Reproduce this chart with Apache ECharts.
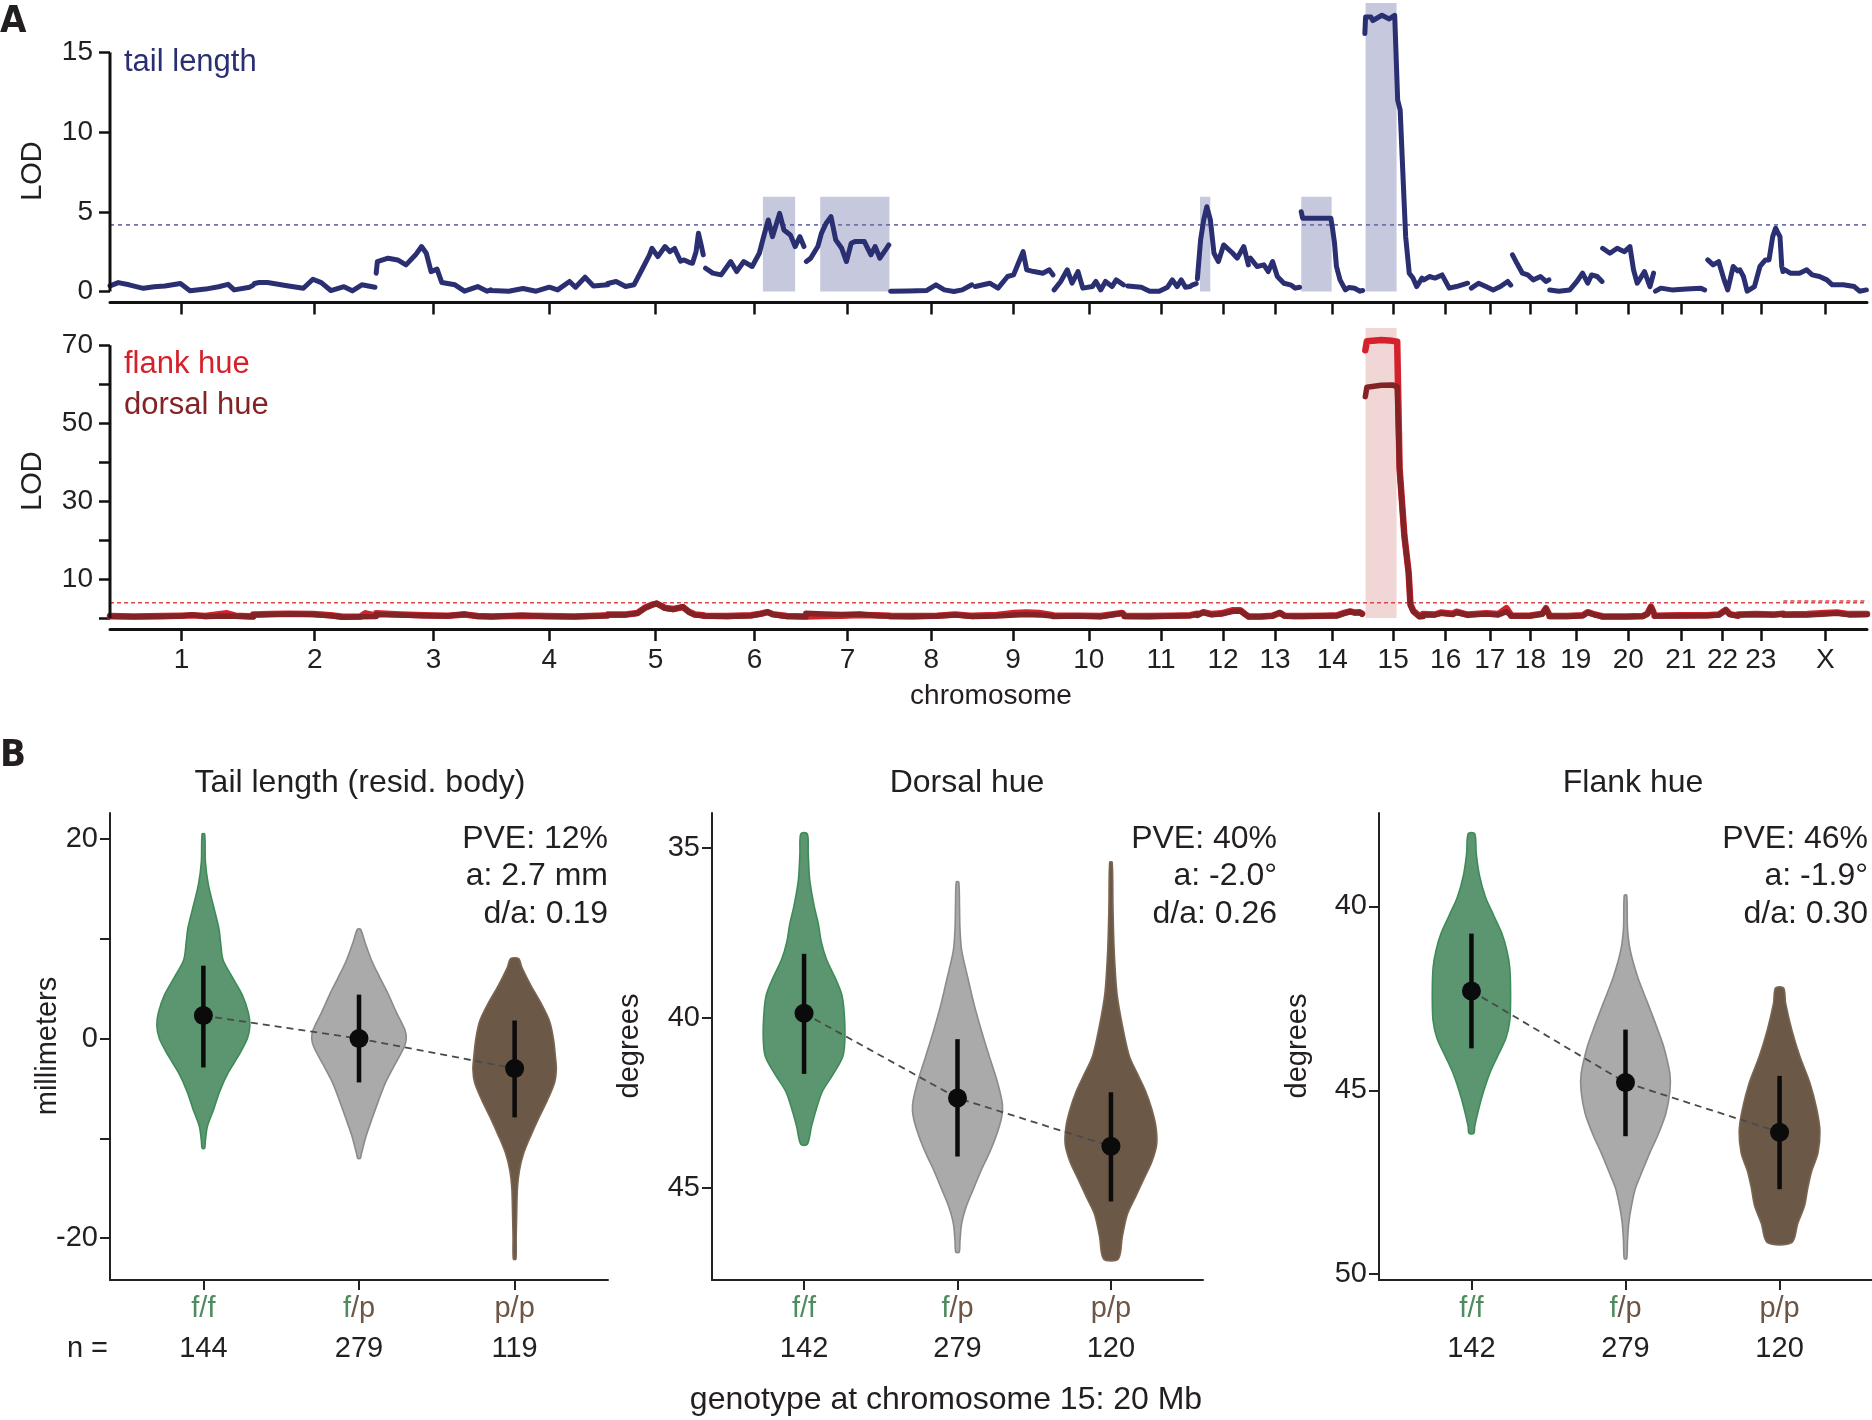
<!DOCTYPE html>
<html><head><meta charset="utf-8">
<script src="https://cdn.jsdelivr.net/npm/echarts@6/dist/echarts.min.js"></script>
<style>html,body{margin:0;padding:0;background:#fff}#c{width:1872px;height:1420px}</style>
</head><body><div id="c"></div><script>
// ---------------- DATA ----------------
const chromNames = ['1','2','3','4','5','6','7','8','9','10','11','12','13','14','15','16','17','18','19','20','21','22','23','X'];
const chromLengths = [120,103,96,98,80,86,70,70,67,60,61,43,44,52,50,38,36,32,44,44,44,26,38,70];

// tail length LOD, per chromosome: [position within chromosome, LOD]
const tailLOD = [
 [[0,0.35],[7,0.56],[16,0.42],[28,0.2],[37,0.3],[46,0.35],[59,0.5],[67,0.05],[80,0.15],[91,0.3],[99,0.45],[104,0.1],[117,0.27],[120,0.4]],
 [[1,0.5],[5,0.56],[12,0.56],[27,0.38],[42,0.2],[50,0.77],[57,0.56],[65,0.06],[76,0.3],[83,0.04],[91,0.42],[102,0.27]],
 [[0,1.15],[1,1.88],[10,2.09],[18,1.98],[25,1.67],[33,2.3],[38,2.82],[42,2.4],[46,1.25],[51,1.4],[55,0.56],[66,0.42],[74,0.02],[85,0.31],[93,0.02],[96,0.1]],
 [[0,0.06],[15,0.02],[27,0.19],[38,0.02],[49,0.27],[56,0.1],[66,0.63],[71,0.27],[79,0.9],[86,0.35],[98,0.42]],
 [[0,0.5],[7,0.63],[15,0.31],[22,0.42],[30,1.57],[35,2.3],[37,2.71],[42,2.19],[48,2.82],[52,2.5],[56,2.7],[61,1.9],[64,1.98],[69,1.8],[71,1.77],[74,2.5],[76,3.65],[78,3.0],[80,2.3]],
 [[2,1.46],[8,1.15],[15,1.04],[23,1.88],[28,1.25],[34,1.88],[41,1.57],[47,2.4],[51,3.55],[54.5,4.49],[58,3.44],[64,4.9],[67.6,3.86],[73,3.55],[77,2.82],[81,3.44],[84.4,2.82]],
 [[0.4,1.88],[4,2.09],[10,2.82],[13,3.65],[17,4.28],[21,4.7],[25,3.24],[30,2.71],[34,1.88],[38,3.03],[41,3.13],[49,3.13],[54.5,2.3],[58,2.82],[62,2.09],[67.6,2.71],[69.5,2.92]],
 [[1,0.02],[16,0.03],[31,0.06],[39,0.42],[46,0.1],[54,0.0],[61,0.1],[69,0.42]],
 [[2,0.31],[14,0.52],[21,0.21],[29,0.94],[34,1.04],[38,1.77],[42,2.5],[45,1.36],[51,1.25],[58.5,1.15],[64,1.36],[67,1.04]],
 [[1,0.1],[6.5,0.63],[12,1.36],[16,0.52],[21,1.25],[25,0.21],[33,0.31],[36,0.63],[40,0.1],[44,0.63],[49.5,0.31],[53,0.73],[59,0.42]],
 [[2.6,0.35],[14,0.27],[21,0.02],[29,0.02],[36,0.27],[40,0.73],[44,0.31],[47.5,0.73],[51,0.27],[55,0.31],[57,0.42],[60,0.5]],
 [[0,0.8],[2.7,3.24],[5.3,4.49],[7.9,5.32],[10.9,4.49],[13.9,2.4],[17.6,1.88],[22,2.92],[29.6,2.4],[33.3,2.09],[38.9,2.82],[42.7,1.67]],
 [[1.4,2.09],[7,1.57],[12.7,1.67],[16.4,1.25],[20,1.88],[24,0.94],[29.5,0.52],[35,0.42],[39,0.21],[42.6,0.27]],
 [[0,5.0],[1.2,4.59],[24.8,4.6],[26.4,3.86],[27.9,3.03],[29.5,1.57],[32.5,0.73],[37,0.1],[40,0.25],[44.7,0.2],[49.3,0.02],[51.5,0.06]],
 [[1.3,16.18],[1.9,17.22],[6.5,17.22],[8,17.0],[15.6,17.33],[21.7,17.1],[26.3,17.33],[27.9,17.43],[28.8,12.0],[30.9,11.38],[34,5.95],[35.5,3.44],[38.5,1.15],[41.6,0.84],[44.7,0.31],[49.2,0.84]],
 [[0.8,0.73],[5.4,0.94],[10,0.84],[16,1.04],[22,0.21],[28,0.31],[37.4,0.52]],
 [[2.5,0.21],[8.6,0.52],[14.7,0.31],[20.8,0.1],[26.9,0.31],[33,0.63],[35.5,0.4]],
 [[1,2.3],[4.7,1.77],[9.3,1.15],[13.8,1.04],[18.4,0.73],[24.5,0.94],[29,0.63],[31.5,0.73]],
 [[0.2,0.1],[7.8,0.02],[17,0.1],[23,0.63],[27.7,1.15],[32,0.52],[35.3,1.04],[40,0.94],[44,0.63]],
 [[0.5,2.71],[6.6,2.4],[12.7,2.71],[18.8,2.5],[23.4,2.82],[26.4,1.36],[29.5,0.52],[35.6,1.25],[40.2,0.31],[43.2,1.15]],
 [[0.8,0.02],[5.3,0.21],[14.5,0.1],[26.7,0.15],[38.9,0.21],[42,0.1]],
 [[0.6,1.98],[5.1,1.67],[9.7,1.88],[14.3,0.73],[17.3,0.1],[21.9,1.57],[25.5,1.3]],
 [[1.5,1.36],[4.5,0.94],[7.6,0.02],[13.7,0.31],[18.3,1.57],[22.9,1.98],[25.9,1.98],[29,3.44],[31.4,3.97],[33.6,3.65],[35.1,3.44],[36.6,1.57],[37.6,1.25]],
 [[1.2,1.36],[5.8,1.15],[13.4,1.15],[19.5,1.36],[24.1,1.04],[30.2,0.94],[36.4,0.73],[40.9,0.42],[50.1,0.42],[59.3,0.31],[63.8,0.02],[69.5,0.1]]
];

const flankLOD = [
 [[0,0.5],[20,0.4],[45,0.5],[60,0.6],[69,0.7],[80,0.5],[98,1.2],[105,0.6],[120,0.4]],
 [[0,0.9],[15,1.0],[30,1.1],[50,1.0],[65,0.7],[75,0.3],[90,0.4],[94,1.2],[103,0.6]],
 [[0,1.2],[20,0.9],[40,0.7],[60,0.6],[74,0.9],[85,0.5],[96,0.4]],
 [[0,0.4],[26,0.6],[45,0.5],[70,0.4],[90,0.6],[98,0.7]],
 [[0,0.9],[15,0.9],[25,1.3],[31,2.6],[38,3.5],[41,3.7],[45,3.1],[48,2.6],[55,2.3],[63,2.8],[68,1.6],[73,0.9],[80,0.7]],
 [[0,0.6],[20,0.5],[40,0.7],[48,1.1],[54,1.5],[58,1.0],[70,0.5],[86,0.4]],
 [[0,0.4],[15,0.5],[30,0.6],[45,0.8],[60,0.7],[70,0.6]],
 [[0,0.5],[20,0.5],[40,0.6],[55,0.9],[70,0.5]],
 [[0,0.6],[20,0.8],[35,1.3],[45,1.4],[55,1.3],[67,0.7]],
 [[0,0.6],[20,0.6],[40,0.5],[58,1.3],[60,0.7]],
 [[0,0.5],[20,0.5],[40,0.6],[55,0.7],[61,1.1]],
 [[0,0.8],[5,1.5],[12,1.0],[20,1.2],[30,2.0],[36,2.0],[40,1.0],[43,0.4]],
 [[0,0.4],[10,0.4],[20,0.6],[26,1.3],[30,0.6],[38,0.5],[44,0.5]],
 [[0,0.5],[20,0.6],[30,0.7],[36,1.3],[41,1.7],[45,1.4],[49,1.5],[51,1.1]],
 [[1.7,68.7],[3,71.0],[4.2,71.5],[15,71.3],[24.4,71.1],[28.4,70.9],[30.4,38.5],[34.4,21.2],[37.95,11.8],[39.5,3.5],[42,1.8],[47,0.5],[50,0.6]],
 [[0,1.0],[10,0.9],[15,1.4],[25,1.1],[28,1.6],[38,0.8]],
 [[0,0.9],[15,1.2],[25,1.0],[32,2.5],[36,0.7]],
 [[0,0.6],[15,0.6],[26,1.1],[29,2.5],[32,0.7]],
 [[0,0.5],[15,0.5],[28,0.7],[32,1.5],[38,0.9],[44,0.5]],
 [[0,0.4],[20,0.4],[34,0.5],[38,1.1],[41,2.9],[43,1.6]],
 [[0,0.6],[20,0.7],[44,0.7]],
 [[0,0.7],[10,0.9],[15.6,2.1],[19,1.0],[26,0.6]],
 [[0,0.9],[15,1.0],[30,0.9],[38,1.1]],
 [[0,0.9],[20,1.0],[35,1.3],[45,1.4],[55,1.0],[70,1.0]]
];

const dorsalLOD = [
 [[0,0.4],[20,0.3],[45,0.4],[60,0.5],[69,0.8],[80,0.4],[100,0.5],[120,0.3]],
 [[0,0.8],[15,0.9],[30,1.0],[50,0.9],[65,0.6],[75,0.2],[90,0.3],[103,0.4]],
 [[0,0.9],[20,0.8],[40,0.6],[60,0.5],[74,1.0],[85,0.4],[96,0.4]],
 [[0,0.3],[26,0.7],[45,0.4],[70,0.3],[90,0.5],[98,0.6]],
 [[0,0.8],[15,0.8],[25,1.2],[31,2.5],[38,3.4],[41,3.8],[45,3.0],[48,2.5],[55,2.2],[63,2.9],[68,1.5],[73,0.8],[80,0.6]],
 [[0,0.5],[20,0.4],[40,0.6],[48,1.0],[54,1.6],[58,0.9],[70,0.4],[86,0.3]],
 [[0,1.2],[15,1.0],[30,0.9],[45,1.0],[60,0.6],[70,0.5]],
 [[0,0.4],[20,0.3],[40,0.5],[55,0.8],[70,0.4]],
 [[0,0.4],[20,0.5],[35,0.8],[45,0.9],[55,0.8],[67,0.5]],
 [[0,0.4],[20,0.5],[40,0.3],[58,1.2],[60,0.6]],
 [[0,0.4],[20,0.3],[40,0.5],[55,0.6],[61,1.0]],
 [[0,0.7],[5,1.4],[12,0.8],[20,1.0],[30,1.7],[36,1.8],[40,0.9],[43,0.3]],
 [[0,0.3],[10,0.3],[20,0.5],[26,1.4],[30,0.5],[38,0.4],[44,0.4]],
 [[0,0.4],[20,0.5],[30,0.5],[36,1.2],[41,1.6],[45,1.3],[49,1.4],[51,1.0]],
 [[1.7,56.8],[3,59.2],[4.2,59.7],[15,59.7],[24.4,59.8],[28.4,59.3],[30.4,38],[34.4,20.9],[37.95,11.5],[39.5,3.3],[42,1.6],[47,0.3],[50,0.4]],
 [[0,0.8],[10,0.8],[15,1.2],[25,0.9],[28,1.4],[38,0.7]],
 [[0,0.8],[15,1.0],[25,0.8],[32,1.6],[36,0.5]],
 [[0,0.5],[15,0.5],[26,1.0],[29,2.4],[32,0.6]],
 [[0,0.4],[15,0.4],[28,0.6],[32,1.4],[38,0.8],[44,0.4]],
 [[0,0.3],[20,0.3],[34,0.4],[38,1.0],[41,2.8],[43,1.5]],
 [[0,0.5],[20,0.5],[44,0.6]],
 [[0,0.6],[10,0.8],[15.6,2.0],[19,0.9],[26,0.5]],
 [[0,0.8],[15,0.9],[30,0.8],[38,1.0]],
 [[0,0.8],[20,0.8],[35,1.0],[45,1.2],[55,0.8],[70,0.9]]
];

const tailThreshold = 4.18;
const hueThreshold = 3.9;
const hueThresholdX = 4.35;
// highlighted intervals: [chromosome, start, end]
const tailRegions = [['6',50,77],['7',12,70],['12',2.2,10.8],['14',0,25.5],['15',1.9,27.9]];
const hueRegions = [['15',1.9,27.9]];

// Panel B
const genotypes = ['f/f','f/p','p/p'];
const tailN = [144,279,119], dorsalN = [142,279,120], flankN = [142,279,120];
const tailMean = [2.3, 0.0, -3.0];
const tailCI = [[-2.9,7.3],[-4.4,4.4],[-7.9,1.8]];
const dorsalMean = [39.87, 42.36, 43.78];
const dorsalCI = [[38.12,41.65],[40.63,44.08],[42.19,45.4]];
const flankMean = [42.3, 44.79, 46.14];
const flankCI = [[40.74,43.86],[43.35,46.25],[44.61,47.69]];
// violin outlines: [value, half width in genotype units]
const tailFF = [[20.5,0.008],[17.7,0.013],[15.5,0.031],[13.2,0.066],[11,0.1],[9.7,0.11],[7.9,0.126],[6.2,0.184],[4.4,0.249],[2.6,0.289],[1.3,0.299],[0,0.283],[-1.8,0.223],[-3.5,0.157],[-5.3,0.105],[-7.1,0.066],[-8.8,0.026],[-10.2,0.013],[-11,0.008]];
const tailFP = [[10.95,0.01],[9.7,0.037],[7.9,0.079],[6.2,0.131],[4.4,0.189],[2.6,0.241],[0.9,0.294],[0,0.304],[-0.9,0.289],[-2.6,0.231],[-4.4,0.171],[-6.2,0.126],[-7.9,0.087],[-9.7,0.047],[-11.5,0.016],[-12,0.008]];
const tailPP = [[8.0,0.026],[7.1,0.047],[5.3,0.105],[3.5,0.171],[1.8,0.223],[0,0.249],[-1.8,0.262],[-3.1,0.268],[-4.4,0.257],[-6.2,0.21],[-7.9,0.157],[-9.7,0.105],[-11.5,0.058],[-13.2,0.031],[-15,0.018],[-17.7,0.013],[-19.9,0.01],[-22.1,0.008]];
const dorsalFF = [[34.59,0.021],[35.17,0.027],[35.95,0.037],[36.72,0.066],[37.24,0.093],[37.76,0.112],[38.28,0.146],[38.8,0.2],[39.31,0.245],[39.83,0.261],[40.61,0.266],[41.13,0.253],[41.65,0.191],[42.16,0.12],[42.68,0.08],[43.2,0.048],[43.72,0.021]];
const dorsalFP = [[36.01,0.008],[36.72,0.013],[37.37,0.016],[38.02,0.027],[38.8,0.066],[39.57,0.106],[40.35,0.154],[41.13,0.207],[41.9,0.261],[42.55,0.293],[42.94,0.287],[43.46,0.253],[43.98,0.207],[44.49,0.154],[45.01,0.106],[45.53,0.059],[46.05,0.027],[46.57,0.016],[46.89,0.011]];
const dorsalPP = [[35.43,0.008],[36.72,0.013],[38.02,0.021],[39.31,0.04],[40.35,0.08],[41.13,0.12],[41.65,0.173],[42.16,0.226],[42.68,0.266],[43.2,0.293],[43.72,0.298],[44.24,0.266],[44.75,0.213],[45.27,0.16],[45.79,0.106],[46.44,0.074],[47.09,0.048]];
const flankFF = [[38.02,0.021],[38.56,0.031],[39.16,0.052],[39.76,0.092],[40.24,0.144],[40.72,0.196],[41.2,0.23],[41.68,0.249],[42.4,0.254],[43.11,0.249],[43.59,0.223],[44.07,0.17],[44.55,0.118],[45.03,0.079],[45.51,0.047],[45.99,0.021],[46.17,0.016]];
const flankFP = [[39.7,0.008],[40.6,0.013],[41.2,0.031],[41.92,0.079],[42.63,0.144],[43.35,0.209],[43.83,0.249],[44.55,0.288],[45.03,0.288],[45.63,0.262],[46.23,0.209],[46.71,0.157],[47.19,0.11],[47.66,0.065],[48.14,0.039],[48.62,0.021],[49.1,0.013],[49.58,0.008]];
const flankPP = [[42.22,0.026],[42.63,0.039],[43.35,0.079],[44.07,0.131],[44.79,0.196],[45.51,0.241],[46.11,0.262],[46.71,0.249],[47.19,0.209],[47.66,0.183],[48.14,0.162],[48.62,0.118],[49.14,0.079]];

// ---------------- STYLE / BUILD ----------------
const FONT = '"Liberation Sans", Arial, Helvetica, sans-serif';
const TXT = '#231f20';
const tailColor = '#2a2f72', flankColor = '#d4212b', dorsalColor = '#832326';
const tailShade = '#c6c9de', hueShade = '#f0d7d6';
const genoFill = ['#5b9671','#a9aaa9','#6c5846'];
const genoStroke = ['#3f8b58','#8a8b8a','#7a6551'];
const greenTxt = '#4e8b5f', brownTxt = '#6d5645';

const chromStart = []; let acc = 0;
chromLengths.forEach(l => { chromStart.push(acc); acc += l; });
const genomeLen = acc;
const chromMid = chromStart.map((s, i) => s + chromLengths[i] / 2);
function toGenome(arr) {
  const out = [];
  arr.forEach((pts, i) => {
    pts.forEach(p => out.push([chromStart[i] + p[0], p[1]]));
    out.push([chromStart[i] + chromLengths[i], '-']);
  });
  return out;
}
function regionData(regs, lod, boxTop, yMax) {
  return regs.map(r => {
    const i = chromNames.indexOf(r[0]);
    const peak = Math.max(...lod[i].filter(p => p[0] >= r[1] && p[0] <= r[2]).map(p => p[1]));
    return [chromStart[i] + r[1], chromStart[i] + r[2], peak > 10 ? yMax : boxTop];
  });
}
const Y0MAX = 18.1, Y1MAX = 74.4;

const rectRender = color => (params, api) => {
  const a = api.coord([api.value(0), 0]);
  const b = api.coord([api.value(1), api.value(2)]);
  return {type: 'rect', shape: {x: a[0], y: b[1], width: b[0] - a[0], height: a[1] - b[1]}, style: {fill: color}};
};
const hlineRender = (color, width, dash) => (params, api) => {
  const a = api.coord([api.value(0), api.value(2)]);
  const b = api.coord([api.value(1), api.value(2)]);
  return {type: 'line', shape: {x1: a[0], y1: a[1], x2: b[0], y2: b[1]}, style: {stroke: color, lineWidth: width, lineDash: dash}};
};
const vlineRender = (color, width) => (params, api) => {
  const a = api.coord([api.value(0), api.value(1)]);
  const b = api.coord([api.value(0), api.value(2)]);
  return {type: 'line', shape: {x1: a[0], y1: a[1], x2: b[0], y2: b[1]}, style: {stroke: color, lineWidth: width, lineCap: 'butt'}};
};

const series = [];
// ----- panel A top
series.push({type: 'custom', xAxisIndex: 0, yAxisIndex: 0, z: 1, silent: true,
  data: regionData(tailRegions, tailLOD, 5.95, Y0MAX), renderItem: rectRender(tailShade)});
series.push({type: 'custom', xAxisIndex: 0, yAxisIndex: 0, z: 2, silent: true,
  data: [[0, genomeLen, tailThreshold]], renderItem: hlineRender('#6f72a8', 1.6, [4, 4])});
series.push({type: 'line', xAxisIndex: 0, yAxisIndex: 0, z: 3, data: toGenome(tailLOD), showSymbol: false, symbol: 'none', clip: false,
  lineStyle: {color: tailColor, width: 5, cap: 'round', join: 'round'}});
series.push({type: 'custom', xAxisIndex: 0, yAxisIndex: 0, z: 4, silent: true,
  data: [[0, 0, 15]], renderItem: vlineRender('#111', 3)});
// ----- panel A bottom
series.push({type: 'custom', xAxisIndex: 1, yAxisIndex: 1, z: 1, silent: true,
  data: regionData(hueRegions, flankLOD, 5.95, Y1MAX), renderItem: rectRender(hueShade)});
series.push({type: 'custom', xAxisIndex: 1, yAxisIndex: 1, z: 2, silent: true,
  data: [[0, genomeLen, hueThreshold], [chromStart[23], genomeLen, hueThresholdX]], renderItem: hlineRender('#d9474c', 1.4, [4, 3])});
series.push({type: 'line', xAxisIndex: 1, yAxisIndex: 1, z: 3, data: toGenome(flankLOD), showSymbol: false, symbol: 'none', clip: false,
  lineStyle: {color: flankColor, width: 6.5, cap: 'round', join: 'round'}});
series.push({type: 'line', xAxisIndex: 1, yAxisIndex: 1, z: 3, data: toGenome(dorsalLOD), showSymbol: false, symbol: 'none', clip: false,
  lineStyle: {color: dorsalColor, width: 5.5, cap: 'round', join: 'round'}});
series.push({type: 'custom', xAxisIndex: 1, yAxisIndex: 1, z: 4, silent: true,
  data: [[0, 0, 70]], renderItem: vlineRender('#111', 3)});

// ----- panel B
function addViolinPlot(idx, dens, means, ci) {
  series.push({type: 'custom', xAxisIndex: idx, yAxisIndex: idx, z: 1, silent: true, clip: false,
    data: [[1, 0], [2, 1], [3, 2]],
    renderItem: (params, api) => {
      const cx = api.value(0), k = api.value(1), d = dens[k], pts = [];
      d.forEach(p => pts.push(api.coord([cx - p[1], p[0]])));
      for (let j = d.length - 1; j >= 0; j--) pts.push(api.coord([cx + d[j][1], d[j][0]]));
      return {type: 'polygon', shape: {points: pts, smooth: 0.3}, style: {fill: genoFill[k], stroke: genoStroke[k], lineWidth: 1.6}};
    }});
  series.push({type: 'line', xAxisIndex: idx, yAxisIndex: idx, z: 2, symbol: 'none', showSymbol: false,
    data: means.map((m, i) => [i + 1, m]), lineStyle: {color: '#4a4a4a', width: 1.8, type: [7, 5]}});
  series.push({type: 'custom', xAxisIndex: idx, yAxisIndex: idx, z: 3, silent: true,
    data: ci.map((c, i) => [i + 1, c[0], c[1]]), renderItem: vlineRender('#0b0b0b', 4.5)});
  series.push({type: 'scatter', xAxisIndex: idx, yAxisIndex: idx, z: 4, symbolSize: 19,
    data: means.map((m, i) => [i + 1, m]), itemStyle: {color: '#0b0b0b', opacity: 1}});
}
addViolinPlot(2, [tailFF, tailFP, tailPP], tailMean, tailCI);
addViolinPlot(3, [dorsalFF, dorsalFP, dorsalPP], dorsalMean, dorsalCI);
addViolinPlot(4, [flankFF, flankFP, flankPP], flankMean, flankCI);

// ----- axes
const axisLineA = {show: true, onZero: false, lineStyle: {color: '#111', width: 3}};
const xAxes = [
  {gridIndex: 0, type: 'value', min: 0, max: genomeLen, offset: 11,
   axisLine: axisLineA, splitLine: {show: false},
   axisTick: {customValues: chromMid, length: 12, lineStyle: {color: '#111', width: 2.5}},
   axisLabel: {show: false}},
  {gridIndex: 1, type: 'value', min: 0, max: genomeLen, offset: 11,
   axisLine: axisLineA, splitLine: {show: false},
   axisTick: {customValues: chromMid, length: 12, lineStyle: {color: '#111', width: 2.5}},
   axisLabel: {customValues: chromMid, margin: 17, fontSize: 28, color: TXT, fontFamily: FONT,
     formatter: v => { let b = 0, bd = 1e9; chromMid.forEach((m, i) => { const d = Math.abs(m - v); if (d < bd) { bd = d; b = i; } }); return chromNames[b]; }}}
];
const yAxes = [
  {gridIndex: 0, type: 'value', min: 0, max: Y0MAX, axisLine: {show: false, onZero: false}, splitLine: {show: false},
   axisTick: {customValues: [0, 5, 10, 15], length: 11, lineStyle: {color: '#111', width: 2.5}},
   axisLabel: {customValues: [0, 5, 10, 15], margin: 17, fontSize: 28, color: TXT, fontFamily: FONT}},
  {gridIndex: 1, type: 'value', min: 0, max: Y1MAX, axisLine: {show: false, onZero: false}, splitLine: {show: false},
   axisTick: {customValues: [0, 10, 20, 30, 40, 50, 60, 70], length: 11, lineStyle: {color: '#111', width: 2.5}},
   axisLabel: {customValues: [10, 30, 50, 70], margin: 17, fontSize: 28, color: TXT, fontFamily: FONT}}
];
const labelRich = {
  g: {color: greenTxt, fontSize: 29, fontFamily: FONT, lineHeight: 40},
  b: {color: brownTxt, fontSize: 29, fontFamily: FONT, lineHeight: 40},
  n: {color: TXT, fontSize: 29, fontFamily: FONT, lineHeight: 40}
};
const genoFmt = ['{g|f/f}', '{g|f}{b|/p}', '{b|p/p}'];
function violinAxes(idx, counts, ymin, ymax, inverse, ticks, labels) {
  xAxes.push({gridIndex: idx, type: 'value', min: 0.4, max: 3.6,
    axisLine: {show: true, onZero: false, lineStyle: {color: '#222', width: 2}}, splitLine: {show: false},
    axisTick: {customValues: [1, 2, 3], length: 10, lineStyle: {color: '#222', width: 2}},
    axisLabel: {customValues: [1, 2, 3], margin: 9, rich: labelRich,
      formatter: v => { const i = Math.round(v) - 1; return genoFmt[i] + '\n{n|' + counts[i] + '}'; }}});
  yAxes.push({gridIndex: idx, type: 'value', min: ymin, max: ymax, inverse: inverse,
    axisLine: {show: true, onZero: false, lineStyle: {color: '#222', width: 2}}, splitLine: {show: false},
    axisTick: {customValues: ticks, length: 10, lineStyle: {color: '#222', width: 2}},
    axisLabel: {customValues: labels, margin: 12, fontSize: 29, color: TXT, fontFamily: FONT}});
}
violinAxes(2, tailN, -24.2, 22.6, false, [-20, -10, 0, 10, 20], [-20, 0, 20]);
violinAxes(3, dorsalN, 33.98, 47.71, true, [35, 40, 45], [35, 40, 45]);
violinAxes(4, flankN, 37.46, 50.16, true, [40, 45, 50], [40, 45, 50]);

// ----- free text
function txt(x, y, text, size, opts) {
  opts = opts || {};
  return {type: 'text', x: x, y: y, rotation: opts.rot || 0, silent: true, z: 10,
    style: {text: text, fill: opts.color || TXT, font: (opts.weight || 'normal') + ' ' + size + 'px ' + (opts.family || FONT),
      align: opts.align || 'left', textAlign: opts.align || 'left', verticalAlign: 'middle', textVerticalAlign: 'middle'}};
}
const condensed = '"DejaVu Sans Condensed", "Liberation Sans Narrow", "DejaVu Sans", sans-serif';
const graphic = [
  txt(0, 22, 'A', 38, {weight: 'bold', family: condensed}),
  txt(0, 756, 'B', 38, {weight: 'bold', family: condensed}),
  txt(124, 62, 'tail length', 31, {color: tailColor}),
  txt(124, 364, 'flank hue', 31, {color: flankColor}),
  txt(124, 405, 'dorsal hue', 31, {color: dorsalColor}),
  txt(33, 171, 'LOD', 29, {rot: Math.PI / 2, align: 'center'}),
  txt(33, 481, 'LOD', 29, {rot: Math.PI / 2, align: 'center'}),
  txt(991, 696, 'chromosome', 28, {align: 'center'}),
  txt(360, 783, 'Tail length (resid. body)', 32, {align: 'center'}),
  txt(967, 783, 'Dorsal hue', 32, {align: 'center'}),
  txt(1633, 783, 'Flank hue', 32, {align: 'center'}),
  txt(48, 1046, 'millimeters', 29, {rot: Math.PI / 2, align: 'center'}),
  txt(630, 1046, 'degrees', 29, {rot: Math.PI / 2, align: 'center'}),
  txt(1298, 1046, 'degrees', 29, {rot: Math.PI / 2, align: 'center'}),
  txt(608, 839, 'PVE: 12%', 32, {align: 'right'}),
  txt(608, 876, 'a: 2.7 mm', 32, {align: 'right'}),
  txt(608, 914, 'd/a: 0.19', 32, {align: 'right'}),
  txt(1277, 839, 'PVE: 40%', 32, {align: 'right'}),
  txt(1277, 876, 'a: -2.0°', 32, {align: 'right'}),
  txt(1277, 914, 'd/a: 0.26', 32, {align: 'right'}),
  txt(1868, 839, 'PVE: 46%', 32, {align: 'right'}),
  txt(1868, 876, 'a: -1.9°', 32, {align: 'right'}),
  txt(1868, 914, 'd/a: 0.30', 32, {align: 'right'}),
  txt(108, 1349, 'n =', 29, {align: 'right'}),
  txt(946, 1400, 'genotype at chromosome 15: 20 Mb', 32, {align: 'center'})
];

const chart = echarts.init(document.getElementById('c'), null, {renderer: 'canvas'});
chart.setOption({
  animation: false,
  backgroundColor: '#ffffff',
  textStyle: {fontFamily: FONT},
  grid: [
    {left: 110, top: 3, width: 1757, height: 288.5},
    {left: 110, top: 328, width: 1757, height: 290},
    {left: 110, top: 813, width: 498, height: 467},
    {left: 712, top: 813, width: 491, height: 467},
    {left: 1379, top: 813, width: 493, height: 467}
  ],
  xAxis: xAxes,
  yAxis: yAxes,
  series: series,
  graphic: graphic
});
</script></body></html>
